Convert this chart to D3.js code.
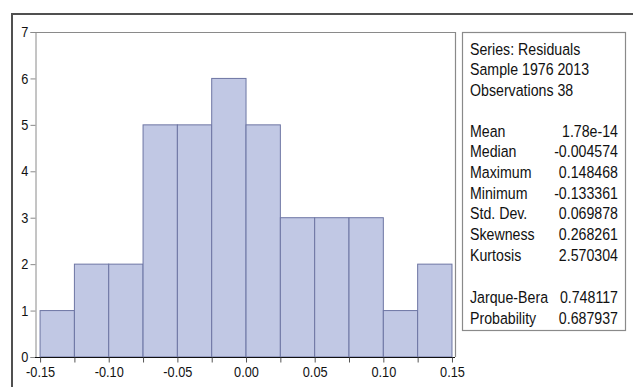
<!DOCTYPE html>
<html>
<head>
<meta charset="utf-8">
<script src="https://cdn.jsdelivr.net/npm/d3@7"></script>
<style>
  body { margin: 0; background: #fff; }
  text { font-family: "Liberation Sans", Arial, sans-serif; fill: #111; }
</style>
</head>
<body>
<svg id="chart" width="633" height="387"></svg>
<script>
// histogram bins (left edge) and counts
const binStarts = [-0.15, -0.125, -0.10, -0.075, -0.05, -0.025, 0.0, 0.025, 0.05, 0.075, 0.10, 0.125];
const counts = [1, 2, 2, 5, 5, 6, 5, 3, 3, 3, 1, 2];
const binWidth = 0.025;
const xTickLabels = [-0.15, -0.10, -0.05, 0.00, 0.05, 0.10, 0.15];
const yTicks = [0, 1, 2, 3, 4, 5, 6, 7];

const statsHeader = ['Series: Residuals', 'Sample 1976 2013', 'Observations 38'];
const statNames = ['Mean', 'Median', 'Maximum', 'Minimum', 'Std. Dev.', 'Skewness', 'Kurtosis'];
const statValues = ['1.78e-14', '-0.004574', '0.148468', '-0.133361', '0.069878', '0.268261', '2.570304'];
const testNames = ['Jarque-Bera', 'Probability'];
const testValues = ['0.748117', '0.687937'];

const svg = d3.select('#chart');
const plot = { left: 35, right: 455, top: 32, bottom: 357 };
const fontFam = '"Liberation Sans", Arial, sans-serif';

// outer frame
svg.append('path')
   .attr('d', 'M12,400 L12,14 L640,14')
   .attr('fill', 'none')
   .attr('stroke', '#505050')
   .attr('stroke-width', 2);

const x = d3.scaleLinear()
            .domain([-0.1537, 0.1522])
            .range([plot.left, plot.right]);
const y = d3.scaleLinear()
            .domain([0, 7])
            .range([plot.bottom, plot.top]);

// bars
svg.append('g')
   .selectAll('rect')
   .data(binStarts.map((b, i) => ({ x0: b, x1: b + binWidth, n: counts[i] })))
   .join('rect')
     .attr('x', d => x(d.x0))
     .attr('y', d => y(d.n))
     .attr('width', d => x(d.x1) - x(d.x0))
     .attr('height', d => y(0) - y(d.n))
     .attr('fill', '#c1c8e4')
     .attr('stroke', '#6d75a3')
     .attr('stroke-width', 1);

// frame top & right
svg.append('path')
   .attr('d', `M${plot.left},${plot.top + 0.5} L${plot.right + 0.5},${plot.top + 0.5} L${plot.right + 0.5},${plot.bottom}`)
   .attr('fill', 'none')
   .attr('stroke', '#8a8a8a')
   .attr('stroke-width', 1.2);

// y axis
const yAxis = svg.append('g')
                 .attr('transform', `translate(${plot.left + 0.5},0)`)
                 .call(d3.axisLeft(y).tickValues(yTicks).tickFormat(d3.format('d')).tickSize(5).tickPadding(3));
yAxis.select('.domain').attr('stroke', '#8a8a8a');
yAxis.selectAll('.tick line').attr('stroke', '#8a8a8a');
yAxis.selectAll('text')
     .attr('font-size', 14.5)
     .attr('font-family', fontFam)
     .attr('fill', '#111')
     .attr('transform', 'scale(0.88,1)');

// x axis: ticks at every bin edge, labels every 0.05
const edgeTicks = binStarts.concat([0.15]);
const fmt = d => d3.format('.2f')(d).replace('\u2212', '-');
const xAxis = svg.append('g')
                 .attr('transform', `translate(0,${plot.bottom + 0.5})`)
                 .call(d3.axisBottom(x)
                         .tickValues(edgeTicks)
                         .tickFormat(d => xTickLabels.some(v => Math.abs(v - d) < 1e-9) ? fmt(d) : '')
                         .tickSize(5)
                         .tickPadding(4)
                         .tickSizeOuter(0));
xAxis.select('.domain')
     .attr('d', `M${plot.left},0H${plot.right}`)
     .attr('stroke', '#111');
xAxis.selectAll('.tick line').attr('stroke', '#555');
xAxis.selectAll('text')
     .attr('font-size', 14.5)
     .attr('font-family', fontFam)
     .attr('fill', '#111')
     .attr('transform', 'scale(0.88,1)');

// stats box
const box = { x: 462.5, y: 32.5, w: 163, h: 298 };
svg.append('rect')
   .attr('x', box.x)
   .attr('y', box.y)
   .attr('width', box.w)
   .attr('height', box.h)
   .attr('fill', '#fff')
   .attr('stroke', '#8a8a8a')
   .attr('stroke-width', 1.2);

const lineH = 20.7;
const textX = 470;
const valX = 618;
const fs = 16.5;
const squeeze = 0.86;

// text helper, narrowed horizontally around its anchor point
const addText = (sel, tx, ty, str, anchor) => {
  sel.append('text')
     .attr('transform', `translate(${tx},${ty}) scale(${squeeze},1)`)
     .attr('font-size', fs)
     .attr('text-anchor', anchor || 'start')
     .text(str);
};

const statsG = svg.append('g');
statsHeader.forEach((t, i) => addText(statsG, textX, 54.5 + i * lineH, t));

const rows = statNames.map((n, i) => ({ name: n, val: statValues[i], y: 136.5 + i * lineH }))
                      .concat(testNames.map((n, i) => ({ name: n, val: testValues[i], y: 303 + i * lineH })));
rows.forEach(r => {
  addText(statsG, textX, r.y, r.name);
  addText(statsG, valX, r.y, r.val, 'end');
});
</script>
</body>
</html>
